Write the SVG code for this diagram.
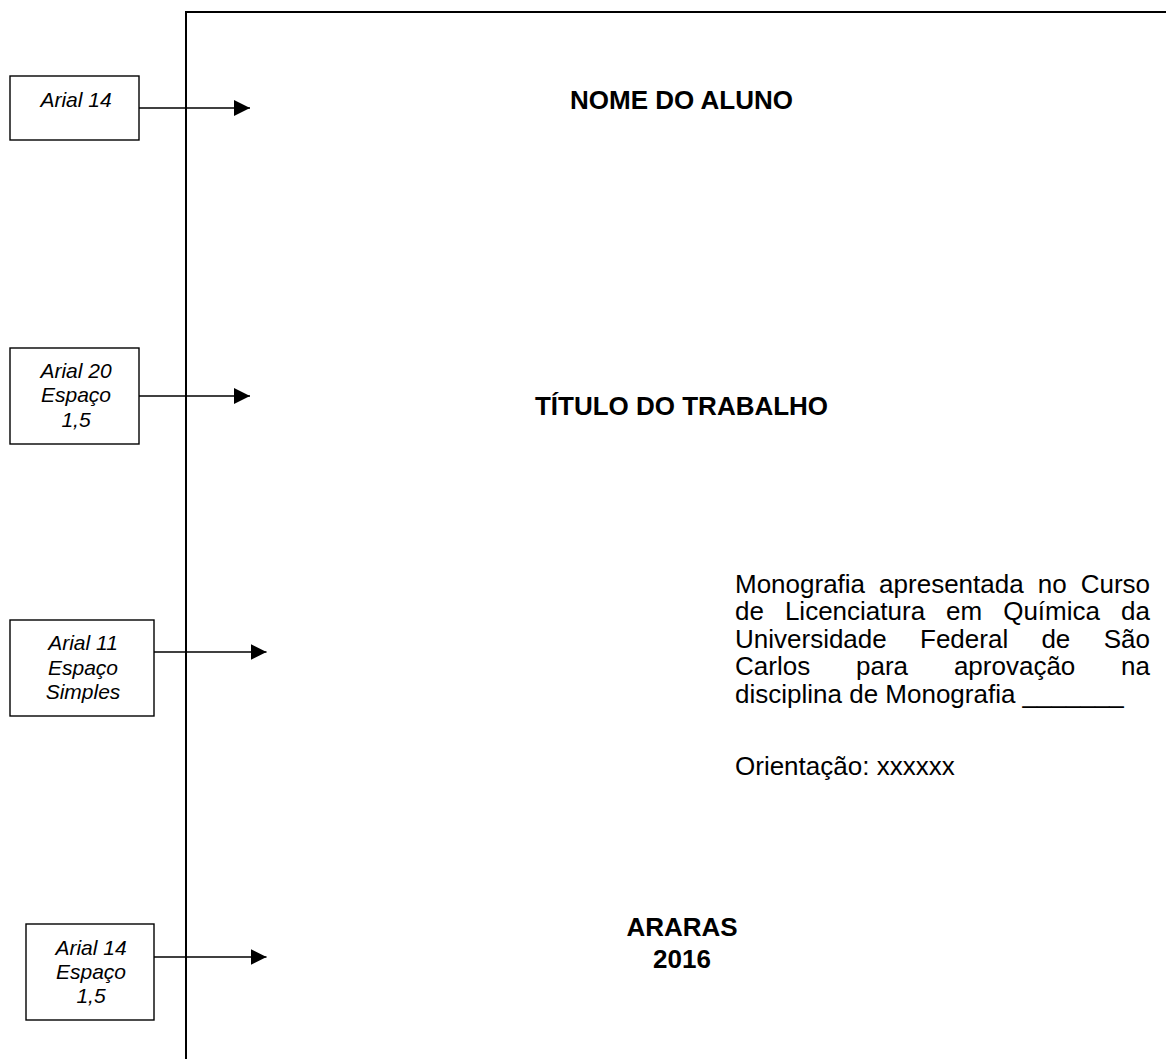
<svg xmlns="http://www.w3.org/2000/svg" width="1166" height="1059" viewBox="0 0 1166 1059">
<style>
.box{fill:#fff;stroke:#000;stroke-width:1.4}
.lbl{font-family:"Liberation Sans",Arial,sans-serif;font-style:italic;font-size:21px;fill:#000;text-anchor:middle}
.ttl{font-family:"Liberation Sans",Arial,sans-serif;font-weight:bold;font-size:26px;fill:#000;text-anchor:middle}
.body{font-family:"Liberation Sans",Arial,sans-serif;font-size:26px;fill:#000}
.conn{stroke:#000;stroke-width:1.4;fill:none}
</style>
<defs>
<marker id="arrow" markerUnits="userSpaceOnUse" markerWidth="16" markerHeight="16" refX="16" refY="8" orient="auto">
<path d="M0,0 L16,8 L0,16 Z" fill="#000"/>
</marker>
</defs>
<rect width="1166" height="1059" fill="#fff"/>
<g id="page">
<path d="M186,1059 V12 H1166" fill="none" stroke="#000" stroke-width="2"/>
</g>
<g id="connectors">
<line class="conn" x1="139" y1="108" x2="250" y2="108" marker-end="url(#arrow)"/>
<line class="conn" x1="139" y1="396" x2="250" y2="396" marker-end="url(#arrow)"/>
<line class="conn" x1="154" y1="652" x2="266.5" y2="652" marker-end="url(#arrow)"/>
<line class="conn" x1="154" y1="957" x2="266.5" y2="957" marker-end="url(#arrow)"/>
</g>
<g id="label1">
<rect class="box" x="10" y="76" width="129" height="64"/>
<text class="lbl" x="76" y="106.5">Arial 14</text>
</g>
<g id="label2">
<rect class="box" x="10" y="348" width="129" height="96"/>
<text class="lbl" x="76" y="378">Arial 20</text>
<text class="lbl" x="76" y="402">Espaço</text>
<text class="lbl" x="76" y="426.5">1,5</text>
</g>
<g id="label3">
<rect class="box" x="10" y="620" width="144" height="96"/>
<text class="lbl" x="83" y="650">Arial 11</text>
<text class="lbl" x="83" y="674.5">Espaço</text>
<text class="lbl" x="83" y="699">Simples</text>
</g>
<g id="label4">
<rect class="box" x="26" y="924" width="128" height="96"/>
<text class="lbl" x="91" y="955">Arial 14</text>
<text class="lbl" x="91" y="979">Espaço</text>
<text class="lbl" x="91" y="1003">1,5</text>
</g>
<g id="nome">
<text class="ttl" x="681.5" y="109">NOME DO ALUNO</text>
</g>
<g id="titulo">
<text class="ttl" x="681.5" y="415">TÍTULO DO TRABALHO</text>
</g>
<g id="descricao">
<text class="body" y="592.5"><tspan x="735">Monografia</tspan><tspan x="879.1">apresentada</tspan><tspan x="1037.7">no</tspan><tspan x="1150" text-anchor="end">Curso</tspan></text>
<text class="body" y="620"><tspan x="735">de</tspan><tspan x="784.9">Licenciatura</tspan><tspan x="946.1">em</tspan><tspan x="1003.2">Química</tspan><tspan x="1150" text-anchor="end">da</tspan></text>
<text class="body" y="647.5"><tspan x="735">Universidade</tspan><tspan x="920">Federal</tspan><tspan x="1041.4">de</tspan><tspan x="1150" text-anchor="end">São</tspan></text>
<text class="body" y="675"><tspan x="735">Carlos</tspan><tspan x="856">para</tspan><tspan x="953.9">aprovação</tspan><tspan x="1150" text-anchor="end">na</tspan></text>
<text class="body" x="735" y="702.5">disciplina de Monografia _______</text>
<text class="body" x="735" y="775">Orientação: xxxxxx</text>
</g>
<g id="local">
<text class="ttl" x="682" y="936">ARARAS</text>
<text class="ttl" x="682" y="968">2016</text>
</g>
</svg>
